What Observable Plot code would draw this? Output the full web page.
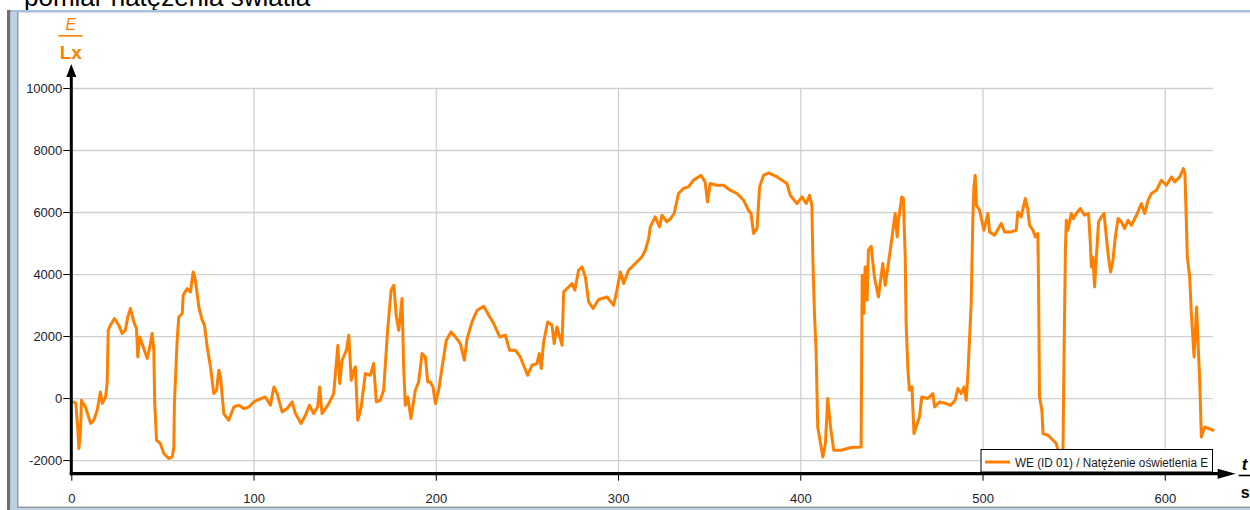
<!DOCTYPE html>
<html><head><meta charset="utf-8">
<script src="https://cdn.jsdelivr.net/npm/d3@7"></script>
<script src="https://cdn.jsdelivr.net/npm/@observablehq/plot@0.6"></script>
<style>
html,body{margin:0;padding:0;background:#fff;overflow:hidden}
#chart{position:relative;width:1250px;height:510px}
</style></head><body><div id="chart"></div>
<script>
const title = "pomiar natężenia światła";
const seriesName = "WE (ID 01) / Natężenie oświetlenia E";
const yUnitTop = "E", yUnitBottom = "Lx";
const xUnitTop = "t", xUnitBottom = "s";
const xTicks = [0, 100, 200, 300, 400, 500, 600];
const yTicks = [-2000, 0, 2000, 4000, 6000, 8000, 10000];
const xDomain = [0, 626.3];
const yDomain = [-2440, 10000];

const timeS = [
  1.1,2.2,3.2,3.9,4.8,5.3,7.5,10.3,12.1,13.9,15.7,16.7,18.5,19.4,20,21.2,23.4,25.8,27.6,29.4,30.7,32.2,34,35.5,36.2,37.3,39.2,41.4,42.8,44.1,45,45.5,46.5,48.6,50.5,53.2,55.1,56,56.3,57.8,58.7,60.6,61.1,63.3,65.1,66.6,67.8,69.7,71.5,72.8,74.3,76.1,77.9,79.4,80.7,81.6,83.4,86.1,88.9,91.6,94.4,97.1,99.8,101.7,
  106.2,109,110.9,112.7,115.4,118.1,120.9,122.7,125.8,128.2,130.4,132.7,134.9,136,137.3,141,143.7,146,147,148.3,150.7,152,153.3,154.7,155.6,156.9,158.8,161.1,163.8,165.6,167.1,169.3,171.1,173.3,175.2,176.7,178.1,179.4,181.2,182.1,183,184.3,186.1,188.5,190.3,192.2,194,195.3,196.7,198.2,199.5,201.3,203.2,205.5,208.1,210.5,213.2,215.4,216.9,219.6,222.4,226,228.8,231.5,234.8,237.9,240.2,243.4,246.1,250.1,252.5,255.2,256.5,257.6,258.9,261.1,263.5,264.7,266.2,269,269.9,272.6,274.5,276,278.1,280,281.8,283.6,286,289.1,293.7,297.3,299.1,301,
  302.8,305.5,309.2,312.8,314.7,316.5,317.4,320.1,322.5,323.8,326.5,328.5,330.5,332.9,335.6,338.4,341.1,345.2,347.5,348.8,350.3,353.9,357.6,361.3,365,368.6,371.3,372.7,374.1,376,377.4,379.6,382.4,387,392.4,394.2,397.9,400.7,403,404.8,406.1,406.6,407.5,408.4,409.3,412.1,413.5,414.8,
  416.3,418.1,422.1,427.6,433.1,433.7,434.6,435.3,436.4,437.1,438.6,440.4,442.6,445,446.3,447.8,449.6,451.8,452.9,453.6,455.4,456.3,457.3,457.8,458.8,459.6,461,462.1,463.9,465.1,466.4,469.7,472.5,473.4,476.1,479.8,482.2,484.7,486.2,488,489.5,490.8,491.7,493.5,494.4,495,495.7,496.4,498.1,500.5,502.7,503.6,506.3,510,511.8,515.5,518.2,
  519.1,520.9,523.2,524.5,525.5,527.4,528.7,530.1,530.5,531,532.3,532.9,535.7,538.4,540.2,541.1,542.5,543.8,544.4,545.2,545.7,546.6,548.4,549.6,551.2,553.4,555.7,557.9,558.9,559.4,560.3,561.2,562.2,563.4,564.9,566.4,567.3,568.6,570,571.3,572.6,574.1,575.9,577.7,579.6,581.4,584.2,586.9,588.7,590.6,592.4,595.2,597.9,600.6,603.4,605.2,608,609.9,610.8,612.1,613.4,614.3,615.8,616.5,617.2,618,618.9,619.8,621.6,626.2
];
const illuminanceLx = [
  -110,-150,-900,-1613,-1020,-55,-270,-800,-700,-377,213,-150,52,484,2203,2365,2580,2365,2097,2203,2632,2903,2471,2258,1342,1987,1665,1290,1665,2097,1558,-161,-1345,-1452,-1774,-1935,-1884,-1561,-161,1880,2632,2742,3332,3548,3439,4084,3816,2955,2526,2365,1665,1020,161,268,913,697,-484,-700,-271,-216,-323,-271,-110,-55,
  52,-216,374,161,-432,-323,-110,-484,-806,-539,-216,-484,-271,374,-484,-161,161,1720,484,1235,1558,2042,590,913,1020,-700,-271,806,752,1129,-110,-55,268,2203,3494,3655,2632,2203,3226,1020,-216,52,-645,268,536,1452,1342,536,536,374,-161,268,1020,1880,2149,1987,1774,1235,1935,2471,2848,2977,2687,2419,1987,2042,1558,1558,1342,752,1074,1129,1452,968,1826,2471,2365,1774,2310,1720,3439,3600,3710,3494,4139,4245,3923,3116,2903,3193,3277,3010,3494,4084,
  3710,4139,4355,4568,4784,5161,5535,5858,5535,5913,5697,5800,5968,6613,6774,6828,7042,7203,6987,6342,6935,6880,6880,6720,6613,6397,6074,5968,5323,5484,6826,7203,7277,7148,6935,6558,6290,6503,6290,6558,6235,4568,2742,1558,-916,-1884,-1452,0,
  -916,-1668,-1668,-1581,-1561,3977,2742,4245,3171,4784,4913,3923,3277,4355,3655,4245,5000,5968,5213,5752,6503,6452,4568,2419,913,268,374,-1129,-806,-594,52,0,161,-271,-110,-161,-216,-55,323,161,374,-55,806,3064,5752,6826,7203,6235,6074,5429,5968,5374,5268,5645,5374,5374,5429,
  6019,5858,6452,6129,5590,5429,5213,5323,3494,52,-377,-1129,-1184,-1345,-1452,-1668,-2100,-2100,1129,4784,5752,5429,5968,5800,5968,6129,5913,5968,5000,4245,4568,3600,4568,5697,5858,5968,5429,4677,4084,4461,5213,5806,5697,5484,5752,5590,5913,6290,5968,6397,6613,6720,7042,6880,7148,6987,7148,7419,7258,4568,3923,2742,1342,2148,2955,1774,590,-1239,-916,-1022
];

const data = timeS.map((t, i) => ({t, e: illuminanceLx[i]}));
const orange = "#ff8000";
const font = "'Liberation Sans', Arial, sans-serif";
const fmt = d => String(d);

const chart = Plot.plot({
  width: 1250, height: 510,
  marginLeft: 71.3, marginRight: 37.3, marginTop: 88, marginBottom: 36.3,
  style: {fontFamily: font, fontSize: "13px", color: "#1c2230", background: "#fff", overflow: "visible"},
  x: {domain: xDomain, ticks: xTicks, tickFormat: fmt},
  y: {domain: yDomain, ticks: yTicks, tickFormat: fmt},
  marks: [
    Plot.gridX(xTicks, {stroke: "#d0d0d0", strokeOpacity: 1, strokeWidth: 1.3}),
    Plot.gridY(yTicks, {stroke: "#d0d0d0", strokeOpacity: 1, strokeWidth: 1.3}),
    Plot.axisX(xTicks, {tickSize: 7, tickPadding: 13, label: null, stroke: "#000", tickFormat: fmt}),
    Plot.axisY(yTicks, {tickSize: 8, tickPadding: 1.5, label: null, stroke: "#000", tickFormat: fmt}),
    Plot.line(data, {x: "t", y: "e", stroke: orange, strokeWidth: 3, strokeLinejoin: "round"})
  ]
});
document.getElementById("chart").appendChild(chart);

const svg = d3.select(chart);
const sx = chart.scale("x"), sy = chart.scale("y");
const x0 = sx.apply(xDomain[0]), x1 = sx.apply(xDomain[1]);
const yB = sy.apply(yDomain[0]), yT = sy.apply(yDomain[1]);

// axes with arrows
svg.append("line").attr("x1", x0 - 1.5).attr("x2", x1 + 8).attr("y1", yB).attr("y2", yB)
  .attr("stroke", "#000").attr("stroke-width", 3.2);
svg.append("path").attr("d", `M${x1 + 5},${yB - 5}L${x1 + 23},${yB}L${x1 + 5},${yB + 5}Z`).attr("fill", "#000");
svg.append("line").attr("x1", x0).attr("x2", x0).attr("y1", yB + 1.5).attr("y2", yT - 12)
  .attr("stroke", "#000").attr("stroke-width", 3);
svg.append("path").attr("d", `M${x0 - 5},${yT - 11}L${x0},${yT - 24}L${x0 + 5},${yT - 11}Z`).attr("fill", "#000");

// y unit
svg.append("text").attr("x", x0 - 0.5).attr("y", 30).attr("text-anchor", "middle")
  .attr("font-family", font).attr("font-size", 16).attr("font-style", "italic").attr("fill", orange).text(yUnitTop);
svg.append("line").attr("x1", x0 - 13).attr("x2", x0 + 11).attr("y1", 35.8).attr("y2", 35.8)
  .attr("stroke", orange).attr("stroke-width", 1.6);
svg.append("text").attr("x", x0 - 0.5).attr("y", 58.5).attr("text-anchor", "middle")
  .attr("font-family", font).attr("font-size", 19).attr("font-weight", "bold").attr("fill", orange).text(yUnitBottom);

// x unit
svg.append("text").attr("x", x1 + 29).attr("y", 470).attr("text-anchor", "start").attr("font-family", font).attr("font-size", 17)
  .attr("font-style", "italic").attr("font-weight", "bold").attr("fill", "#000").text(xUnitTop);
svg.append("line").attr("x1", x1 + 26).attr("x2", x1 + 40).attr("y1", 475.5).attr("y2", 475.5)
  .attr("stroke", "#000").attr("stroke-width", 1.6);
svg.append("text").attr("x", x1 + 28).attr("y", 498).attr("text-anchor", "start").attr("font-family", font).attr("font-size", 16)
  .attr("font-weight", "bold").attr("fill", "#000").text(xUnitBottom);

// legend
const lg = svg.append("g");
lg.append("rect").attr("x", 981).attr("y", 449.5).attr("width", 231.5).attr("height", 22.5)
  .attr("fill", "#fff").attr("stroke", "#000").attr("stroke-width", 1);
lg.append("line").attr("x1", 985).attr("x2", 1010).attr("y1", 462).attr("y2", 462)
  .attr("stroke", orange).attr("stroke-width", 3);
lg.append("text").attr("x", 1015).attr("y", 466.5).attr("text-anchor", "start").attr("font-family", font).attr("font-size", 12)
  .attr("textLength", 193).attr("lengthAdjust", "spacingAndGlyphs")
  .attr("fill", "#1a1a1a").text(seriesName);

// title (partly hidden by the window frame)
svg.append("text").attr("x", 24).attr("y", 5.5).attr("text-anchor", "start").attr("font-family", font).attr("font-size", 26)
  .attr("fill", "#000").text(title);

// window frame
svg.append("rect").attr("x", 7).attr("y", 10).attr("width", 1243).attr("height", 2.5).attr("fill", "#a9c1dc");
svg.append("rect").attr("x", 7).attr("y", 10).attr("width", 3.5).attr("height", 500).attr("fill", "#6f6f6f");
svg.append("rect").attr("x", 10.5).attr("y", 12).attr("width", 6.5).attr("height", 498).attr("fill", "#bcd1e8");
svg.append("rect").attr("x", 17).attr("y", 12).attr("width", 1.5).attr("height", 496).attr("fill", "#9a9a9a");
svg.append("rect").attr("x", 17).attr("y", 506.5).attr("width", 1233).attr("height", 1.5).attr("fill", "#9a9a9a");
svg.append("rect").attr("x", 10.5).attr("y", 508).attr("width", 1240).attr("height", 2).attr("fill", "#bcd1e8");
</script></body></html>
